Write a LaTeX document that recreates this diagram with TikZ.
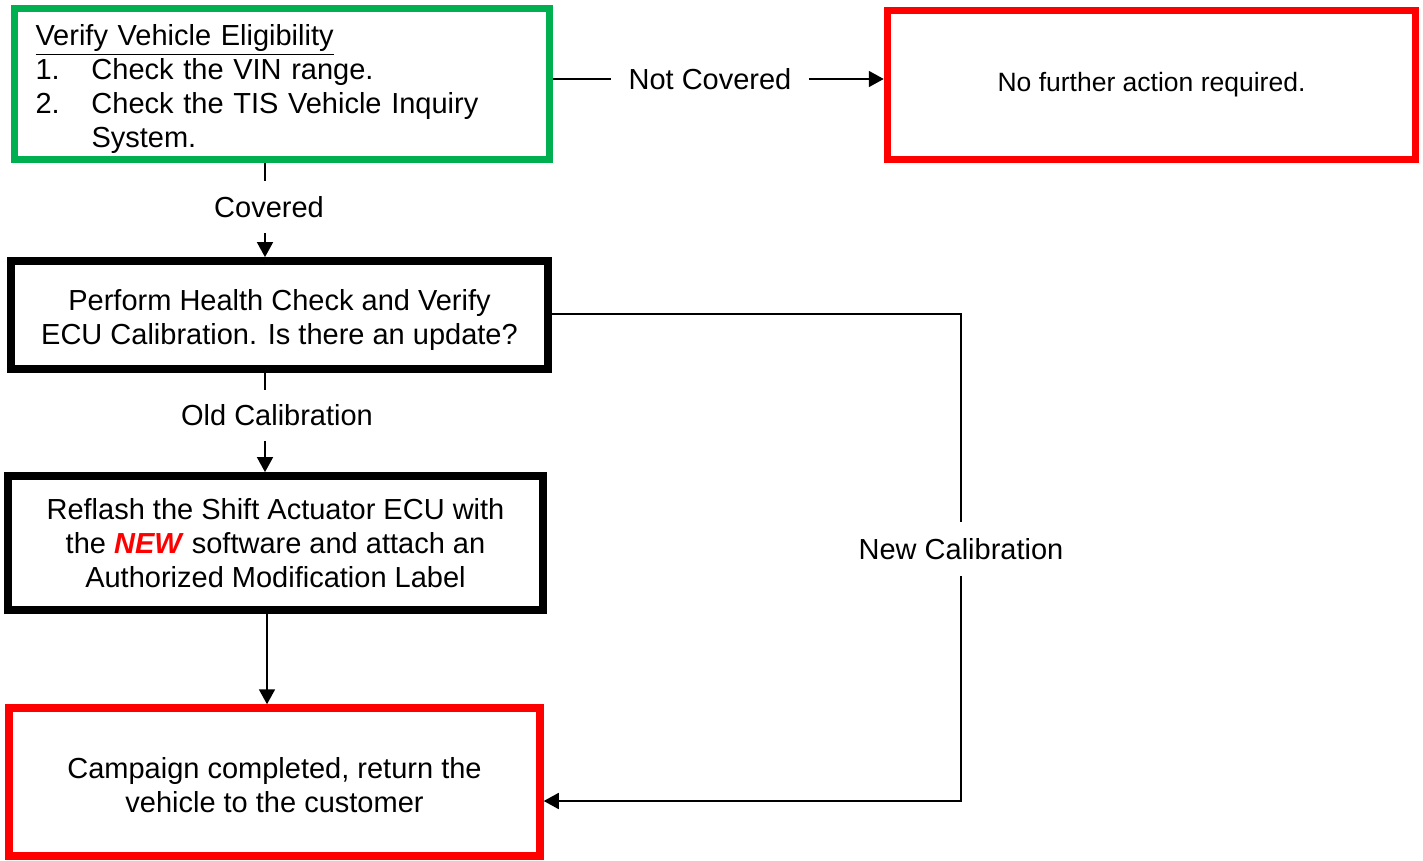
\documentclass[tikz,border=0pt]{standalone}
\usepackage{fontspec}
\setmainfont{Liberation Sans}
\usetikzlibrary{arrows.meta}
\definecolor{grn}{RGB}{0,176,80}
\definecolor{rd}{RGB}{255,0,0}
\newcommand{\topstrut}[1]{\rule{0pt}{#1}}
\begin{document}
\begin{tikzpicture}[x=0.5pt,y=-0.5pt,
 base/.style={font=\fontsize{14.5pt}{17pt}\selectfont, align=center, inner sep=0pt},
 gbox/.style={base, draw=grn, line width=3.75pt},
 rbox/.style={base, draw=rd, line width=3.75pt},
 kbox/.style={base, draw=black, line width=3.9pt},
 lbl/.style={font=\fontsize{14.5pt}{17pt}\selectfont, inner sep=0pt},
 conn/.style={line width=0.9pt},
 arr/.style={conn, -{Triangle[length=7.5pt,width=8pt]}}]
\useasboundingbox (0,0) rectangle (1423,861);
% boxes
\node[gbox, minimum width=267.6pt, minimum height=75.6pt, text width=246.6pt, inner xsep=10.5pt, align=left] (g) at (282.1,84.1)
 {\topstrut{15.5pt}\underline{Verify Vehicle Eligibility}\\
  \makebox[28pt][l]{1.}Check the VIN range.\\
  \makebox[28pt][l]{2.}Check the TIS Vehicle Inquiry\\
  \hspace*{28pt}System.};
\node[rbox, minimum width=264pt, minimum height=74.5pt, font=\fontsize{13.25pt}{16pt}\selectfont] (r1) at (1151.5,85)
 {\raisebox{3pt}{No further action required.}};
\node[kbox, minimum width=268.5pt, minimum height=54pt] (b2) at (279.5,315)
 {\topstrut{15.4pt}Perform Health Check and Verify\\ECU Calibration. Is there an update?};
\node[kbox, minimum width=267.5pt, minimum height=67pt] (b3) at (275.5,543)
 {Reflash the Shift Actuator ECU with\\the \textcolor{rd}{\textbf{\textit{NEW}}} software and attach an\\Authorized Modification Label};
\node[rbox, minimum width=265.5pt, minimum height=74pt] (r2) at (274.5,782)
 {\topstrut{13.6pt}Campaign completed, return the\\vehicle to the customer};
% labels
\node[lbl, inner xsep=8.5pt] (nc) at (710,79) {Not Covered};
\node[lbl, minimum height=26pt] (cov) at (269,207) {Covered};
\node[lbl, minimum height=25pt] (oc) at (277,415.5) {Old Calibration};
\node[lbl, minimum height=26.5pt] (ncal) at (961,549) {New Calibration};
% helper coordinates
\coordinate (k0) at (0,79);
\coordinate (k1) at (0,314);
\coordinate (k2) at (0,801);
\coordinate (kx) at (265,0);
\coordinate (kx2) at (267,0);
% connectors
\draw[conn] (g.east |- k0) -- (nc.west);
\draw[arr] (nc.east) -- (r1.west |- k0);
\draw[conn] (g.south -| kx) -- (cov.north -| kx);
\draw[arr] (cov.south -| kx) -- (b2.north -| kx);
\draw[conn] (b2.south -| kx) -- (oc.north -| kx);
\draw[arr] (oc.south -| kx) -- (b3.north -| kx);
\draw[arr] (b3.south -| kx2) -- (r2.north -| kx2);
\draw[conn] (b2.east |- k1) -- (ncal.north |- k1) -- (ncal.north);
\draw[arr] (ncal.south) -- (ncal.south |- k2) -- (r2.east |- k2);
\end{tikzpicture}
\end{document}
